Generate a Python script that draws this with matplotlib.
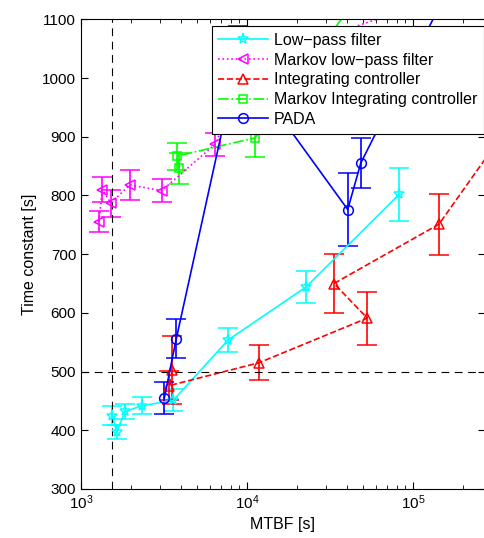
import matplotlib
matplotlib.use('Agg')
import matplotlib.pyplot as plt

plt.rcParams['font.family'] = ['Liberation Sans', 'DejaVu Sans']
plt.rcParams['axes.unicode_minus'] = True

# Low-pass filter
lp_x = [1544, 1641, 1841, 2339, 3595, 7709, 22670, 82690]
lp_y = [425, 397, 432, 442, 451, 554, 644, 802]
lp_e = [16, 12, 12, 14, 19, 21, 27, 45]

# Markov low-pass filter
mlp_x = [1283, 1344, 1510, 1973, 3060, 6412, 10720, 179000]
mlp_y = [755, 810, 787, 818, 808, 887, 1027, 1146]
mlp_e = [18, 22, 23, 25, 20, 20, 30, 30]

# Integrating controller
ic_x = [3556, 3390, 11800, 53050, 33420, 143400, 441600]
ic_y = [502, 476, 515, 591, 650, 751, 946]
ic_e = [58, 25, 30, 45, 51, 52, 55]

# Markov Integrating controller
mic_x = [3908, 3772, 11170, 52700]
mic_y = [846, 867, 898, 1160]
mic_e = [27, 23, 33, 30]

# PADA
pada_x = [3177, 3750, 8830, 40440, 48450, 198600]
pada_y = [455, 556, 1034, 776, 855, 1200]
pada_e = [28, 33, 54, 62, 43, 50]

labels = ['Low\u2212pass filter', 'Markov low\u2212pass filter', 'Integrating controller',
          'Markov Integrating controller', 'PADA']

mtbf_ref = 1540
tau_ref = 500

fig = plt.figure(figsize=(4.84, 5.38), dpi=100)
ax = fig.add_axes([81 / 484, 49 / 538, 404 / 484, 469.7 / 538])

series = [
    (lp_x, lp_y, lp_e, 'cyan', '-', '*', 8),
    (mlp_x, mlp_y, mlp_e, 'magenta', ':', '<', 7),
    (ic_x, ic_y, ic_e, 'red', '--', '^', 7),
    (mic_x, mic_y, mic_e, 'lime', '-.', 's', 6),
    (pada_x, pada_y, pada_e, 'blue', '-', 'o', 7),
]

handles = []
for x, y, e, c, ls, m, ms in series:
    cont = ax.errorbar(x, y, yerr=e, color=c, linestyle=ls, marker=m, markersize=ms,
                       markerfacecolor='none', markeredgecolor=c, markeredgewidth=1.1,
                       linewidth=1.2, elinewidth=1.2, capsize=7, capthick=1.2)
    handles.append(cont[0])

ax.axvline(mtbf_ref, color='black', linestyle=(0, (7, 5)), linewidth=0.8)
ax.axhline(tau_ref, color='black', linestyle=(0, (7, 5)), linewidth=0.8)

ax.set_xscale('log')
ax.set_xlim(1e3, 2.715e5)
ax.set_ylim(300, 1100)
ax.set_yticks(range(300, 1101, 100))
ax.tick_params(which='both', direction='in', top=True, right=True, labelsize=11)
ax.tick_params(which='major', length=5)
ax.tick_params(which='minor', length=3)

ax.set_xlabel('MTBF [s]', fontsize=11.5, labelpad=3)
ax.set_ylabel('Time constant [s]', fontsize=11.5, labelpad=4)

leg = ax.legend(handles, labels, loc='upper right', bbox_to_anchor=(0.9965, 0.9857),
                numpoints=1, handlelength=3.1, fontsize=11.5, labelspacing=0.3,
                fancybox=False, framealpha=1, edgecolor='black', borderpad=0.42,
                handletextpad=0.35, borderaxespad=0)
leg.get_frame().set_linewidth(0.8)

fig.savefig('out.png', dpi=100)
